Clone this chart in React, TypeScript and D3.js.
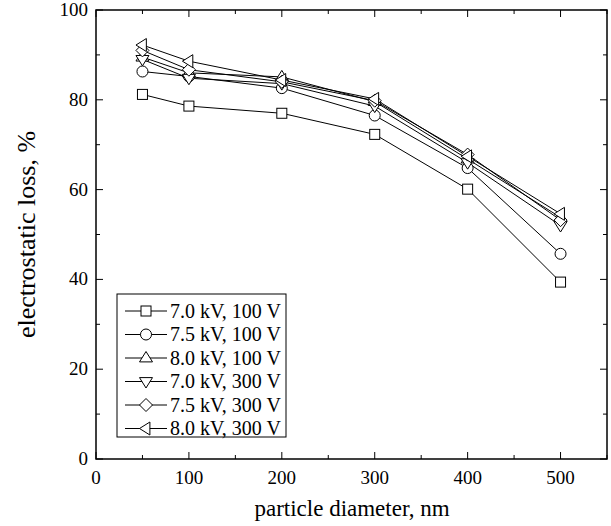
import React from "react";
import * as d3 from "d3";

const diameters = [50, 100, 200, 300, 400, 500];
const s1 = [81.2, 78.6, 77.0, 72.3, 60.1, 39.4];
const s2 = [86.3, 85.2, 82.6, 76.5, 64.8, 45.7];
const s3 = [89.5, 86.0, 85.1, 79.6, 66.8, 53.8];
const s4 = [89.0, 84.8, 83.6, 78.6, 66.0, 52.0];
const s5 = [91.0, 86.7, 84.0, 79.8, 67.8, 53.2];
const s6 = [92.2, 88.6, 84.4, 80.2, 67.4, 54.6];
const seriesNames = [
  "7.0 kV, 100 V",
  "7.5 kV, 100 V",
  "8.0 kV, 100 V",
  "7.0 kV, 300 V",
  "7.5 kV, 300 V",
  "8.0 kV, 300 V",
];
const seriesMarkers = ["square", "circle", "up", "down", "diamond", "left"];
const allSeries = [s1, s2, s3, s4, s5, s6];
const xTicks = [0, 100, 200, 300, 400, 500];
const yTicks = [0, 20, 40, 60, 80, 100];

const W = 611, H = 526;
const L = 96, R = 607, T = 10, B = 459;
const FONT = "'Liberation Serif', 'Times New Roman', serif";

function Marker({ type, x, y }: { type: string; x: number; y: number }) {
  const st = { fill: "white", stroke: "black", strokeWidth: 1 };
  const r = 5.5;
  if (type === "square") return <rect x={x - 5} y={y - 5} width={10} height={10} {...st} />;
  if (type === "circle") return <circle cx={x} cy={y} r={r} {...st} />;
  const t = 6.5;
  let pts: number[][] = [];
  if (type === "up") pts = [[x, y - t], [x + t, y + t * 0.6], [x - t, y + t * 0.6]];
  if (type === "down") pts = [[x, y + t], [x + t, y - t * 0.6], [x - t, y - t * 0.6]];
  if (type === "left") pts = [[x - t, y], [x + t * 0.6, y - t], [x + t * 0.6, y + t]];
  if (type === "diamond") pts = [[x, y - t], [x + t, y], [x, y + t], [x - t, y]];
  return <polygon points={pts.map((p) => p.join(",")).join(" ")} {...st} />;
}

export default function App() {
  const x = d3.scaleLinear().domain([0, 550]).range([L, R]);
  const y = d3.scaleLinear().domain([0, 100]).range([B, T]);
  const line = d3
    .line<number>()
    .x((_, i) => x(diameters[i]))
    .y((d) => y(d));
  const xMinor = d3.range(0, 551, 50);
  const yMinor = d3.range(0, 101, 10);
  const legX = 117, legY = 294, legW = 169, legH = 143, rowH = 23.5;
  return (
    <svg width={W} height={H} style={{ position: "absolute", left: 0, top: 0 }} fontFamily={FONT}>
      <rect x={0} y={0} width={W} height={H} fill="white" />
      {xMinor.map((v) => {
        const major = v % 100 === 0;
        const len = major ? 7 : 4;
        return (
          <g key={"xt" + v} stroke="black" strokeWidth={1}>
            <line x1={x(v)} x2={x(v)} y1={B} y2={B - len} />
            <line x1={x(v)} x2={x(v)} y1={T} y2={T + len} />
          </g>
        );
      })}
      {yMinor.map((v) => {
        const major = v % 20 === 0;
        const len = major ? 7 : 4;
        return (
          <g key={"yt" + v} stroke="black" strokeWidth={1}>
            <line x1={L} x2={L + len} y1={y(v)} y2={y(v)} />
            <line x1={R} x2={R - len} y1={y(v)} y2={y(v)} />
          </g>
        );
      })}
      <rect x={L} y={T} width={R - L} height={B - T} fill="none" stroke="black" strokeWidth={1.5} />
      {xTicks.map((v) => (
        <text key={"xl" + v} x={x(v)} y={B + 25} textAnchor="middle" fontSize={19}>
          {v}
        </text>
      ))}
      {yTicks.map((v) => (
        <text key={"yl" + v} x={L - 8} y={y(v) + 6} textAnchor="end" fontSize={19}>
          {v}
        </text>
      ))}
      <text x={352} y={516} textAnchor="middle" fontSize={23}>
        particle diameter, nm
      </text>
      <text
        transform={`translate(35, ${(T + B) / 2}) rotate(-90)`}
        textAnchor="middle"
        fontSize={26}
      >
        electrostatic loss, %
      </text>
      {allSeries.map((s, k) => (
        <path key={"l" + k} d={line(s) || ""} fill="none" stroke="black" strokeWidth={1} />
      ))}
      {allSeries.map((s, k) => (
        <g key={"m" + k}>
          {s.map((v, i) => (
            <Marker key={i} type={seriesMarkers[k]} x={x(diameters[i])} y={y(v)} />
          ))}
        </g>
      ))}
      <rect x={legX} y={legY} width={legW} height={legH} fill="white" stroke="black" strokeWidth={1} />
      {seriesNames.map((n, k) => {
        const cy = legY + 17 + k * rowH;
        return (
          <g key={"lg" + k}>
            <line x1={125} x2={167} y1={cy} y2={cy} stroke="black" strokeWidth={1} />
            <Marker type={seriesMarkers[k]} x={146} y={cy} />
            <text x={170} y={cy + 6.5} fontSize={20}>
              {n}
            </text>
          </g>
        );
      })}
    </svg>
  );
}
